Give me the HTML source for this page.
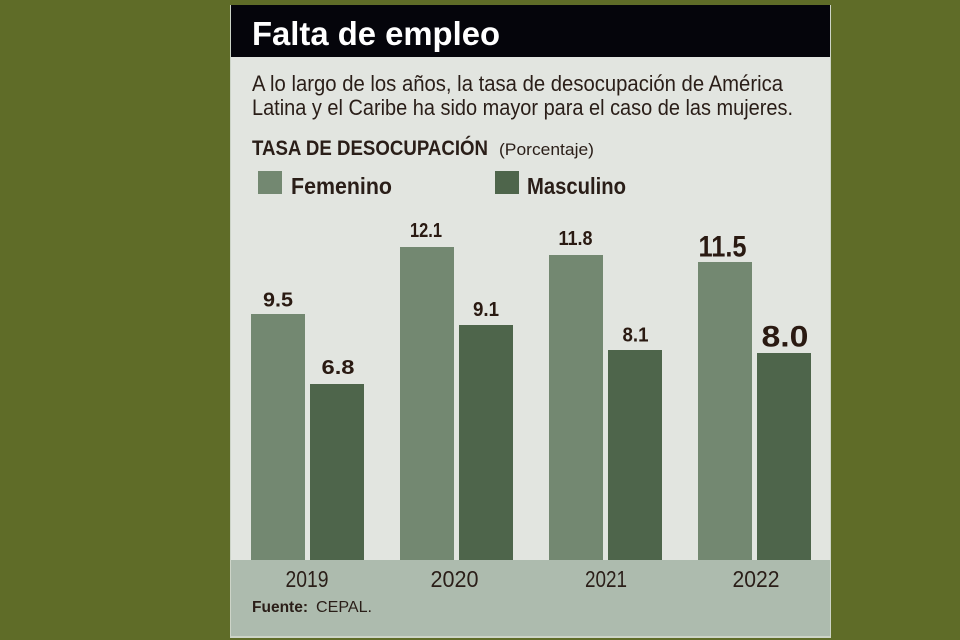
<!DOCTYPE html>
<html><head><meta charset="utf-8"><style>
html,body{margin:0;padding:0;background:#5f6c28;}
svg{display:block;}
text{font-family:"Liberation Sans",sans-serif;}
</style></head><body>
<svg width="960" height="640" viewBox="0 0 960 640" xmlns="http://www.w3.org/2000/svg">
<rect x="0" y="0" width="960" height="640" fill="#5f6c28"/>
<rect x="230" y="5" width="601" height="633" fill="#cdd4c8"/>
<rect x="231" y="5" width="599" height="631" fill="#e2e5e0"/>
<rect x="231" y="5" width="599" height="52" fill="#05050b"/>
<rect x="231" y="560" width="599" height="76" fill="#adbbae"/>
<text x="252" y="45" font-size="33" font-weight="bold" fill="#ffffff" textLength="248" lengthAdjust="spacingAndGlyphs">Falta de empleo</text>
<text x="252" y="91" font-size="22" fill="#2a1e18" textLength="531" lengthAdjust="spacingAndGlyphs">A lo largo de los años, la tasa de desocupación de América</text>
<text x="252" y="115" font-size="22" fill="#2a1e18" textLength="541" lengthAdjust="spacingAndGlyphs">Latina y el Caribe ha sido mayor para el caso de las mujeres.</text>
<text x="252" y="155" font-size="21" font-weight="bold" fill="#2a1e18" textLength="236" lengthAdjust="spacingAndGlyphs">TASA DE DESOCUPACIÓN</text>
<text x="499" y="155" font-size="17" fill="#2a1e18" textLength="95" lengthAdjust="spacingAndGlyphs">(Porcentaje)</text>
<rect x="258" y="171" width="24" height="23" fill="#738871"/>
<text x="291" y="194" font-size="23" font-weight="bold" fill="#2a1e18" textLength="101" lengthAdjust="spacingAndGlyphs">Femenino</text>
<rect x="495" y="171" width="24" height="23" fill="#4e654b"/>
<text x="527" y="194" font-size="23" font-weight="bold" fill="#2a1e18" textLength="99" lengthAdjust="spacingAndGlyphs">Masculino</text>
<g fill="#738871">
<rect x="251" y="314" width="54" height="246"/>
<rect x="400" y="247" width="54" height="313"/>
<rect x="549" y="255" width="54" height="305"/>
<rect x="698" y="262" width="54" height="298"/>
</g>
<g fill="#4e654b">
<rect x="310" y="384" width="54" height="176"/>
<rect x="459" y="325" width="54" height="235"/>
<rect x="608" y="350" width="54" height="210"/>
<rect x="757" y="353" width="54" height="207"/>
</g>
<g font-weight="bold" fill="#2a1a12" text-anchor="middle">
<text x="278" y="306.5" font-size="20" textLength="30" lengthAdjust="spacingAndGlyphs">9.5</text>
<text x="338" y="374" font-size="20" textLength="33" lengthAdjust="spacingAndGlyphs">6.8</text>
<text x="426" y="237" font-size="20" textLength="32" lengthAdjust="spacingAndGlyphs">12.1</text>
<text x="486" y="316" font-size="20" textLength="26" lengthAdjust="spacingAndGlyphs">9.1</text>
<text x="575.5" y="245" font-size="20" textLength="34" lengthAdjust="spacingAndGlyphs">11.8</text>
<text x="635.5" y="341.5" font-size="20" textLength="26" lengthAdjust="spacingAndGlyphs">8.1</text>
<text x="722.5" y="256.5" font-size="30" textLength="48" lengthAdjust="spacingAndGlyphs">11.5</text>
<text x="785" y="346.5" font-size="30" textLength="47" lengthAdjust="spacingAndGlyphs">8.0</text>
</g>
<g font-size="23" fill="#2a1e18" text-anchor="middle">
<text x="307" y="587" textLength="43" lengthAdjust="spacingAndGlyphs">2019</text>
<text x="454.5" y="587" textLength="48" lengthAdjust="spacingAndGlyphs">2020</text>
<text x="606" y="587" textLength="42" lengthAdjust="spacingAndGlyphs">2021</text>
<text x="756" y="587" textLength="47" lengthAdjust="spacingAndGlyphs">2022</text>
</g>
<text x="252" y="612" font-size="16" font-weight="bold" fill="#2a1e18" textLength="56" lengthAdjust="spacingAndGlyphs">Fuente:</text>
<text x="316" y="612" font-size="16" fill="#2a1e18" textLength="56" lengthAdjust="spacingAndGlyphs">CEPAL.</text>
</svg>
</body></html>
